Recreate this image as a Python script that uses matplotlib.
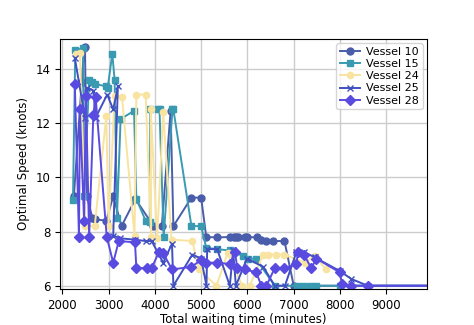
import matplotlib
matplotlib.use("Agg")
import matplotlib.pyplot as plt

v10_x = [2250, 2420, 2470, 2490, 2530, 2650, 2700, 2950, 3100, 3280, 3580, 3970, 4150, 4340, 4400,
         4790, 5000, 5110, 5340, 5630, 5700, 5760, 5800, 5950, 6000, 6200, 6300, 6400, 6560, 6800, 7000, 10000]
v10_y = [9.3, 13.5, 14.75, 14.8, 9.3, 8.5, 8.45, 8.4, 9.3, 8.2, 9.2, 8.2, 8.2, 12.45, 8.2,
         9.25, 9.25, 7.8, 7.78, 7.8, 7.8, 7.8, 7.8, 7.8, 7.8, 7.78, 7.7, 7.65, 7.65, 7.65, 6.0, 6.0]

v15_x = [2230, 2280, 2450, 2470, 2580, 2650, 2710, 2940, 2980, 3080, 3130, 3180, 3260, 3550, 3600,
         3800, 3890, 3900, 4060, 4100, 4190, 4380, 4400, 4790, 5000, 5110, 5340, 5620, 5900, 6010,
         6180, 6590, 7080, 7200, 7360, 7490, 7990, 10000]
v15_y = [9.15, 14.7, 14.75, 9.3, 13.6, 13.5, 13.45, 13.35, 13.3, 14.55, 13.6, 8.5, 12.15, 12.45, 9.2,
         8.4, 8.35, 12.5, 12.5, 12.5, 7.8, 12.5, 12.5, 8.2, 8.2, 7.4, 7.35, 7.3, 7.1, 7.0,
         7.0, 6.0, 6.0, 6.0, 6.0, 6.0, 6.0, 6.0]

v24_x = [2290, 2380, 2500, 2700, 2950, 3000, 3130, 3290, 3560, 3600, 3800, 3920, 3910, 4050, 4180,
         4360, 4810, 4950, 5330, 5570, 5890, 6050, 6340, 6450, 6610, 6800, 7240, 7450, 7700]
v24_y = [14.55, 14.6, 8.2, 8.2, 12.25, 8.2, 13.0, 12.95, 7.85, 13.05, 13.05, 7.8, 12.5, 7.75, 12.4,
         7.7, 7.65, 6.6, 6.0, 7.2, 6.0, 6.0, 7.15, 7.15, 7.15, 7.15, 6.85, 7.1, 6.6]

v25_x = [2270, 2490, 2540, 2670, 2720, 2970, 3100, 3200, 3100, 3250, 3560, 3800, 3930, 4180, 4370,
         4400, 4810, 5000, 5115, 5130, 5345, 5620, 5690, 5750, 5990, 6340, 6590, 6810, 7060, 7220,
         7450, 7990, 8245, 8600, 10000]
v25_y = [14.4, 12.2, 13.3, 13.2, 12.2, 13.05, 12.5, 13.35, 7.85, 7.75, 7.7, 7.65, 7.65, 6.85, 7.55,
         6.0, 7.15, 7.0, 6.0, 7.35, 7.35, 6.0, 7.3, 6.0, 7.0, 6.7, 6.0, 6.0, 7.25, 7.25,
         7.05, 6.55, 6.25, 6.0, 6.0]

v28_x = [2270, 2360, 2380, 2470, 2510, 2580, 2670, 2720, 2960, 3100, 3220, 3570, 3600, 3820, 3930,
         4090, 4180, 4370, 4790, 5000, 5110, 5345, 5630, 5730, 5780, 5940, 6190, 6300, 6410, 6590,
         6800, 7060, 7090, 7220, 7380, 7490, 7990, 8050, 8245, 8600, 10000]
v28_y = [13.45, 7.8, 12.5, 8.4, 13.0, 7.8, 12.3, 12.95, 7.8, 6.85, 7.65, 7.6, 6.65, 6.65, 6.65,
         7.25, 7.2, 6.6, 6.7, 6.95, 6.85, 6.85, 6.8, 7.25, 6.65, 6.6, 6.5, 6.0, 6.0, 6.65,
         6.65, 6.8, 7.25, 7.15, 6.65, 7.0, 6.5, 6.05, 6.0, 6.0, 6.0]

labels = ["Vessel 10", "Vessel 15", "Vessel 24", "Vessel 25", "Vessel 28"]

fig = plt.figure(figsize=(4.74, 3.25), dpi=100)
ax = fig.add_axes([60/474, 1 - 289/325, (427-60)/474, (289-39)/325])

ax.plot(v10_x, v10_y, color="#4A5DAA", marker="o", markersize=5, linewidth=1.4, label=labels[0])
ax.plot(v15_x, v15_y, color="#3A9AB2", marker="s", markersize=5, linewidth=1.4, label=labels[1])
ax.plot(v24_x, v24_y, color="#F8E4A0", marker="o", markersize=4.5, linewidth=1.4, label=labels[2])
ax.plot(v25_x, v25_y, color="#4050C0", marker="x", markersize=5, linewidth=1.4, label=labels[3])
ax.plot(v28_x, v28_y, color="#5A4BE0", marker="D", markersize=5.5, linewidth=1.4, label=labels[4])

ax.set_xlim(1950, 9880)
ax.set_ylim(5.88, 15.1)
ax.set_xticks([2000, 3000, 4000, 5000, 6000, 7000, 8000, 9000])
ax.set_yticks([6, 8, 10, 12, 14])
ax.tick_params(labelsize=8.5)
ax.grid(True, color="#cccccc", linewidth=1)
ax.set_axisbelow(True)
ax.set_xlabel("Total waiting time (minutes)", fontsize=8.5, labelpad=1)
ax.set_ylabel("Optimal Speed (knots)", fontsize=8.5)
ax.legend(loc="upper right", fontsize=8, handlelength=1.8, borderaxespad=0.4,
          labelspacing=0.2, borderpad=0.3, handletextpad=0.6)

fig.savefig("out.png", dpi=100)
